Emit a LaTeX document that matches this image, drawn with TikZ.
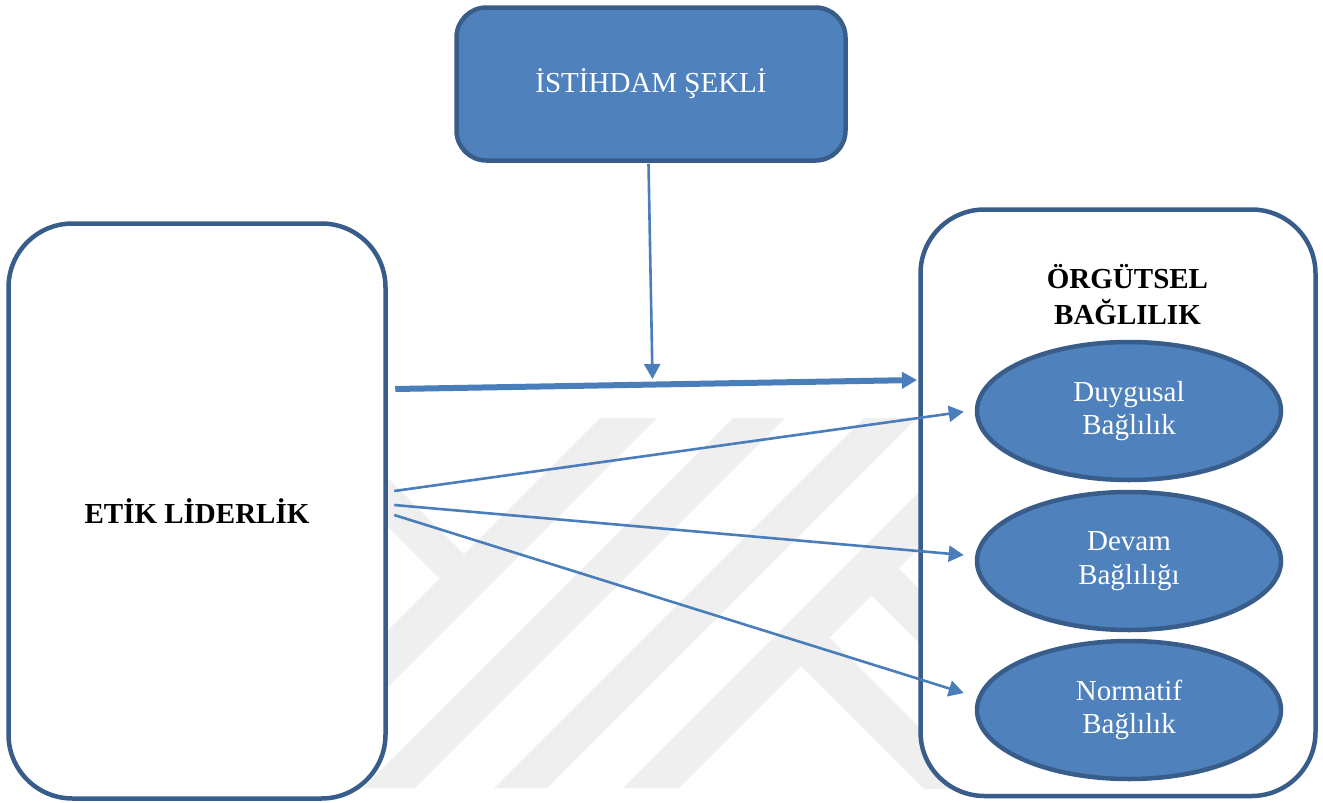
\documentclass[tikz,border=0pt]{standalone}
\usepackage{fontspec}
\setmainfont{Liberation Serif}
\usetikzlibrary{arrows.meta,calc,shapes.geometric}
\definecolor{bfill}{HTML}{4F81BD}
\definecolor{bline}{HTML}{385D8A}
\definecolor{aline}{HTML}{4A7EBB}
\definecolor{wmgray}{HTML}{EFEFEF}
\begin{document}
\begin{tikzpicture}[x=1pt,y=-1pt,
  txt/.style={font=\fontsize{29}{34}\selectfont},
  bigbox/.style={draw=bline, line width=4.5pt, fill=white, rounded corners=#1, inner sep=0pt},
  topbox/.style={draw=bline, line width=4.5pt, fill=bfill, rounded corners=30pt, inner sep=0pt,
    text=white, font=\fontsize{29}{34}\selectfont},
  oval/.style={ellipse, draw=bline, line width=4.5pt, fill=bfill, inner sep=0pt,
    minimum width=304pt, minimum height=138pt, text=white, align=center,
    font=\fontsize{29}{33.5}\selectfont},
  titletext/.style={anchor=base, inner sep=0pt, font=\bfseries\fontsize{29}{34}\selectfont},
  conn/.style={draw=aline, line width=2.6pt, -{Triangle[length=15pt,width=16pt]}},
  thickconn/.style={draw=aline, line width=6pt, -{Triangle[length=15pt,width=16pt]}},
  wm/.style={fill=wmgray, draw=none}]
\useasboundingbox (0,0) rectangle (1323,803);
\fill[white] (0,0) rectangle (1323,803);
% watermark
\begin{scope}
\clip (0,418) rectangle (1323,788);
\fill[wm] (600,418) -- (657,418) -- (287,788) -- (230,788) -- cycle;
\fill[wm] (733,418) -- (785,418) -- (415,788) -- (363,788) -- cycle;
\fill[wm] (864,418) -- (917,418) -- (547,788) -- (494,788) -- cycle;
\fill[wm] (993,418) -- (1049,418) -- (679,788) -- (623,788) -- cycle;
\fill[wm] (330,420) -- (475,565) -- (450.5,589.5) -- (330,469) -- cycle;
\fill[wm] (890,560) -- (1000,670) -- (1000,724) -- (863,587) -- cycle;
\fill[wm] (821,629) -- (1000,808) -- (1000,865) -- (792.5,657.5) -- cycle;
\end{scope}
% boxes
\node[topbox, minimum width=389pt, minimum height=153pt] (ist) at (651,84) {İSTİHDAM ŞEKLİ};
\node[bigbox=64pt, minimum width=377pt, minimum height=575pt,
  font=\bfseries\fontsize{29}{34}\selectfont] (etik) at (197,511) {ETİK LİDERLİK};
\node[bigbox=64pt, minimum width=395pt, minimum height=586.5pt] (org) at (1118,502.75) {};
\node[titletext] (orgA) at (1127.5,288) {ÖRGÜTSEL};
\node[titletext] (orgB) at (1127.5,324) {BAĞLILIK};
\node[oval] (duy) at (1129,411) {Duygusal\\Bağlılık};
\node[oval] (dev) at (1129,561) {Devam\\Bağlılığı};
\node[oval] (nor) at (1129,710) {Normatif\\Bağlılık};
% connectors
\coordinate (vend) at (652.5,379);
\draw[thickconn] ($(etik.east)+(7.5,-122)$) -- ($(org.west)+(-1.2,-122.75)$);
\draw[conn] ($(ist.south)+(-2.5,1)$) -- (vend);
\draw[conn] ($(etik.east)+(6.5,-20)$) -- ($(duy.west)+(-11,0.7)$);
\draw[conn] ($(etik.east)+(6.5,-6)$) -- ($(dev.west)+(-11,-6)$);
\draw[conn] ($(etik.east)+(6.5,4)$) -- ($(nor.west)+(-11,-17)$);
\end{tikzpicture}
\end{document}
